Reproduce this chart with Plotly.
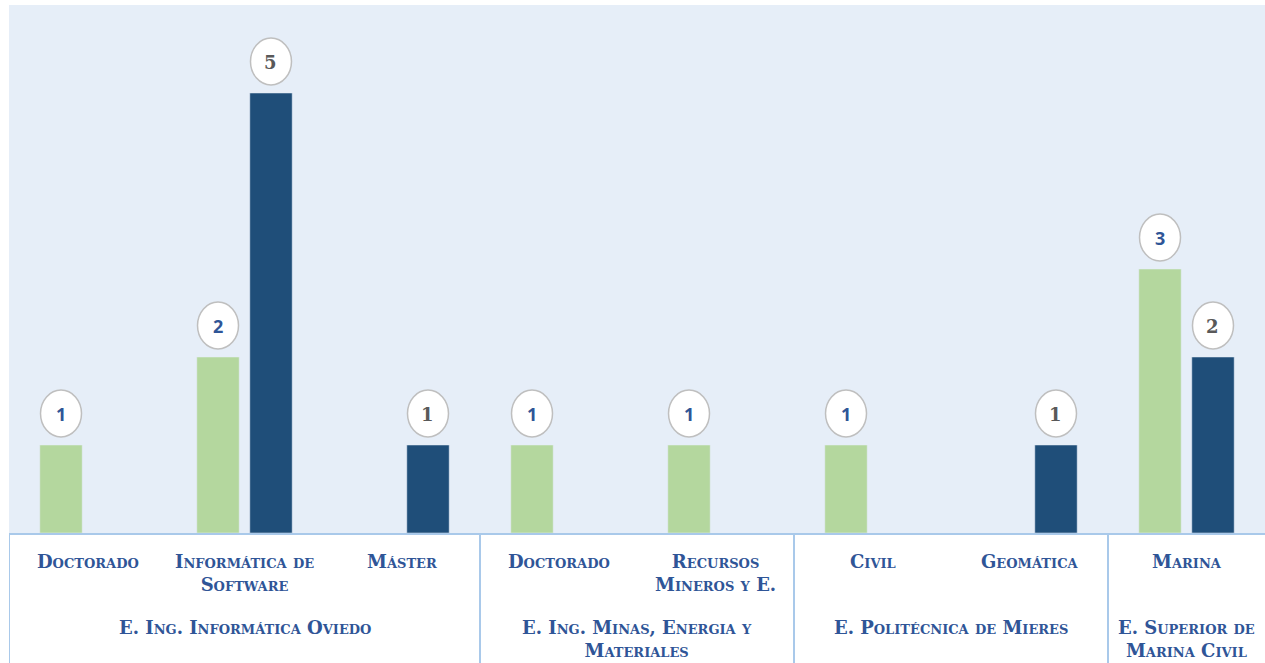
import plotly.graph_objects as go

# Datos
categorias = ["Doctorado", "Informática de<br>Software", "Máster",
              "Doctorado", "Recursos<br>Mineros y E.",
              "Civil", "Geomática",
              "Marina"]
centros = ["E. Ing. Informática Oviedo",
           "E. Ing. Minas, Energia y<br>Materiales",
           "E. Politécnica de Mieres",
           "E. Superior de<br>Marina Civil"]
n_por_centro = [3, 2, 2, 1]
serie_verde = [1, 2, None, 1, 1, 1, None, 3]
serie_azul = [None, 5, 1, None, None, None, 1, 2]

VERDE = "#b4d79e"
AZUL = "#1f4e79"
TEXTO = "#2f5597"
LINEA = "#a9c9ea"
FONDO = "#e6eef8"
SERIF = "DejaVu Serif"

x = list(range(len(categorias)))

fig = go.Figure()
fig.add_trace(go.Bar(x=x, y=serie_verde, marker_color=VERDE, name="Serie 1"))
fig.add_trace(go.Bar(x=x, y=serie_azul, marker_color=AZUL, name="Serie 2"))

fig.update_layout(
    width=1265, height=663,
    margin=dict(l=9, r=0, t=5, b=130),
    barmode="group", bargap=0.325, bargroupgap=0.2,
    plot_bgcolor=FONDO, paper_bgcolor="white",
    showlegend=False,
    xaxis=dict(range=[-0.5, len(categorias) - 0.5], showticklabels=False,
               showgrid=False, zeroline=False, showline=True,
               linecolor=LINEA, linewidth=2, fixedrange=True),
    yaxis=dict(range=[0, 6], visible=False, showgrid=False, fixedrange=True),
)

# Óvalos con etiquetas
desp = 0.16875
etiquetas = [(serie_verde, -desp, dict(family="Open Sans", size=18, color=TEXTO)),
             (serie_azul, desp, dict(family=SERIF, size=18, color="#595959"))]
for serie, d, fuente in etiquetas:
    for i, v in enumerate(serie):
        if v is None:
            continue
        fig.add_shape(type="circle", xref="x", yref="y",
                      xsizemode="pixel", ysizemode="pixel",
                      xanchor=i + d, yanchor=v,
                      x0=-20.5, x1=20.5, y0=8, y1=55,
                      fillcolor="white", line=dict(color="#bfbfbf", width=1.5))
        fig.add_annotation(x=i + d, y=v, yshift=31, text=f"<b>{v}</b>",
                           showarrow=False, font=fuente)

# Etiquetas de categoría
for i, c in enumerate(categorias):
    fig.add_annotation(x=i, y=0, yref="paper", yanchor="top", yshift=-16,
                       text=f"<b>{c}</b>", showarrow=False,
                       font=dict(family=SERIF, size=18, color=TEXTO,
                                 variant="small-caps"))

# Etiquetas de centro y separadores
inicio = 0
for centro, n in zip(centros, n_por_centro):
    medio = inicio + (n - 1) / 2
    fig.add_annotation(x=medio, y=0, yref="paper", yanchor="top", yshift=-82,
                       text=f"<b>{centro}</b>", showarrow=False,
                       font=dict(family=SERIF, size=18, color=TEXTO,
                                 variant="small-caps"))
    fig.add_shape(type="line", xref="x", yref="paper",
                  x0=inicio - 0.5, x1=inicio - 0.5, y0=0, y1=-0.3,
                  line=dict(color=LINEA, width=2))
    inicio += n

fig.write_html("out.html", config={"displayModeBar": False},
               post_script="document.body.style.margin='0px';")
